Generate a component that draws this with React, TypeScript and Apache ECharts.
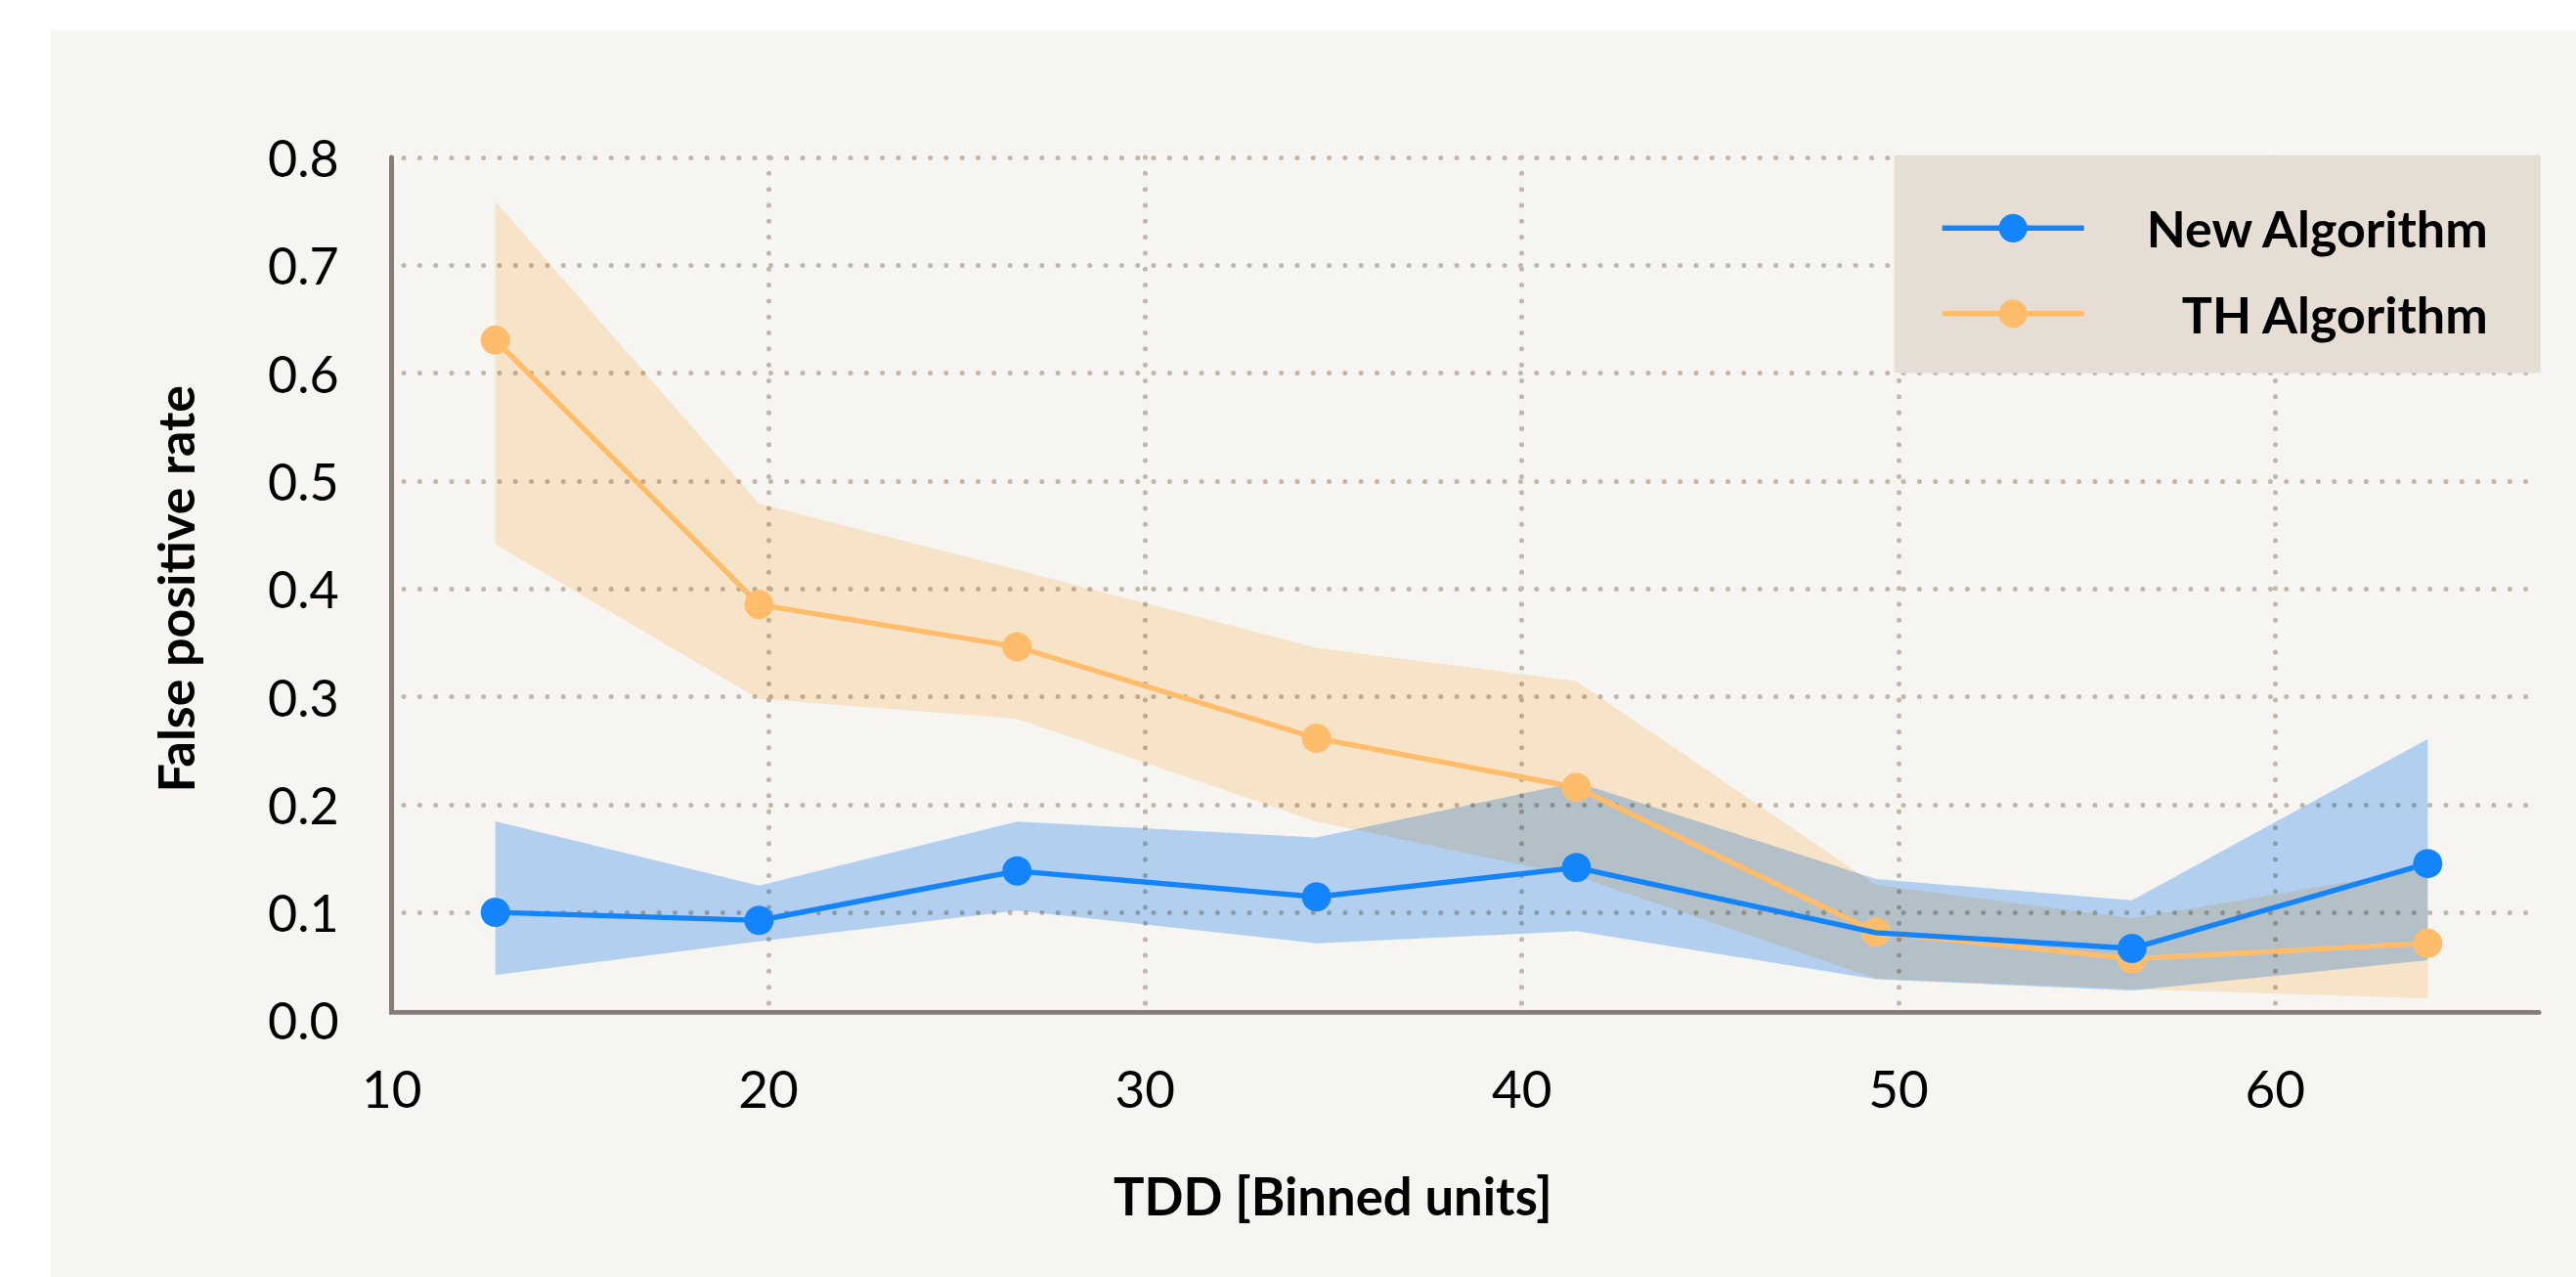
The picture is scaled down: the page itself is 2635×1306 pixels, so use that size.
import React, { useEffect, useRef } from "react";
import * as echarts from "echarts";

// TDD bin centres (x) and false positive rates (y)
const tdd = [12.75, 19.75, 26.6, 34.55, 41.45, 49.4, 56.2, 64.05];

const newAlgo = [0.1, 0.0926, 0.1383, 0.1144, 0.1415, 0.0812, 0.0666, 0.1453];
const newUpper = [0.1845, 0.1248, 0.1841, 0.1695, 0.2207, 0.1309, 0.1113, 0.2607];
const newLower = [0.042, 0.0732, 0.1016, 0.0714, 0.0826, 0.038, 0.0275, 0.0557];

const thAlgo = [0.6307, 0.3854, 0.3462, 0.2615, 0.2159, 0.0817, 0.0569, 0.0714];
const thUpper = [0.7592, 0.479, 0.4176, 0.3454, 0.3143, 0.1255, 0.0944, 0.1408];
const thLower = [0.4413, 0.298, 0.2796, 0.1841, 0.1336, 0.0386, 0.029, 0.0203];

// New Algorithm has no marker drawn at this bin in the reference
const newNoMarkerIndex = [5];

const seriesNames = ["New Algorithm", "TH Algorithm"];

const BLUE = "#1484fa";
const ORANGE = "#ffbd6b";
const BLUE_BAND = "#bad8fe";
const ORANGE_BAND = "#ffedd4";
const PANEL = "#f6f5f1";
const AXIS = "#877d76";
const GRID = "#c1b6a9";
const FONT = "Lato";
const LINE_W = 5.4;

export default function App() {
  const ref = useRef<HTMLDivElement>(null);

  useEffect(() => {
    document.body.style.margin = "0";
    const chart = echarts.init(ref.current!, null, {
      renderer: "svg",
      width: 2635,
      height: 1306,
    });

    const band = (id: string, lower: number[], upper: number[], color: string) => ({
      type: "custom",
      name: id,
      data: tdd.map((x, i) => [x, lower[i], upper[i]]),
      encode: { x: 0, y: [1, 2] },
      silent: true,
      z: 1,
      renderItem: (params: any, api: any) => {
        if (params.dataIndex !== 0) return null;
        const pts: number[][] = [];
        for (let i = 0; i < tdd.length; i++) pts.push(api.coord([tdd[i], upper[i]]));
        for (let i = tdd.length - 1; i >= 0; i--) pts.push(api.coord([tdd[i], lower[i]]));
        return {
          type: "polygon",
          shape: { points: pts },
          style: { fill: color },
          silent: true,
        };
      },
    });

    const dotted = {
      color: GRID,
      width: 5,
      type: [0.01, 16.31],
      cap: "round",
    };

    chart.setOption({
      animation: false,
      backgroundColor: "#ffffff",
      grid: { left: 400.7, right: 38, top: 161, bottom: 262.6, containLabel: false },
      graphic: [
        {
          type: "rect",
          z: -10,
          silent: true,
          shape: { x: 52, y: 31, width: 2583, height: 1275 },
          style: { fill: PANEL },
        },
        {
          type: "rect",
          z: 0.5,
          silent: true,
          shape: { x: 380, y: 1037.8, width: 2240, height: 9 },
          style: { fill: PANEL },
        },
      ],
      legend: {
        data: seriesNames,
        orient: "vertical",
        left: 1937.6,
        top: 158.7,
        padding: [48.6, 54, 34.8, 46.4],
        itemGap: 35.5,
        itemWidth: 145,
        itemHeight: 36.5,
        backgroundColor: "#e6ded5",
        selectedMode: false,
        lineStyle: { width: LINE_W },
        formatter: (name: string) => "{r|" + name + "}",
        textStyle: {
          rich: {
            r: {
              width: 408,
              align: "right",
              fontSize: 52,
              fontWeight: "bold",
              fontFamily: FONT,
              color: "#000000",
            },
          },
        },
      },
      xAxis: {
        type: "value",
        min: 10,
        max: 67,
        interval: 10,
        offset: -8.4,
        axisLine: { show: true, lineStyle: { color: AXIS, width: 5 } },
        axisTick: { show: false },
        axisLabel: {
          fontSize: 53,
          fontFamily: FONT,
          color: "#000000",
          margin: 50.5,
          showMaxLabel: false,
        },
        splitLine: {
          show: true,
          showMinLine: false,
          showMaxLine: false,
          lineStyle: { ...dotted },
        },
        name: "TDD [Binned units]",
        nameLocation: "middle",
        nameGap: 161,
        nameTextStyle: {
          fontSize: 52.6,
          fontWeight: "bold",
          fontFamily: FONT,
          color: "#000000",
          padding: [0, 271, 0, 0],
        },
      },
      yAxis: {
        type: "value",
        min: 0,
        max: 0.8,
        interval: 0.1,
        axisLine: { show: true, lineStyle: { color: AXIS, width: 5 } },
        axisTick: { show: false },
        axisLabel: {
          fontSize: 52,
          fontFamily: FONT,
          color: "#000000",
          margin: 54,
          formatter: (v: number) => v.toFixed(1),
        },
        splitLine: {
          show: true,
          showMinLine: false,
          lineStyle: { ...dotted, dashOffset: 4.3 },
        },
        name: "False positive rate",
        nameLocation: "middle",
        nameGap: 196,
        nameTextStyle: {
          fontSize: 52,
          fontWeight: "bold",
          fontFamily: FONT,
          color: "#000000",
        },
      },
      series: [
        band("th-band", thLower, thUpper, ORANGE_BAND),
        band("new-band", newLower, newUpper, BLUE_BAND),
        {
          type: "line",
          name: "TH Algorithm",
          data: tdd.map((x, i) => [x, thAlgo[i]]),
          symbol: "circle",
          symbolSize: 30,
          itemStyle: { color: ORANGE },
          lineStyle: { color: ORANGE, width: LINE_W },
          z: 2,
        },
        {
          type: "line",
          name: "New Algorithm",
          data: tdd.map((x, i) =>
            newNoMarkerIndex.includes(i)
              ? { value: [x, newAlgo[i]], symbol: "none" }
              : [x, newAlgo[i]]
          ),
          symbol: "circle",
          symbolSize: 30,
          itemStyle: { color: BLUE },
          lineStyle: { color: BLUE, width: LINE_W },
          z: 3,
        },
      ],
    });

    return () => chart.dispose();
  }, []);

  return (
    <>
      <style>{`.fpr-chart path[fill="${BLUE_BAND}" i], .fpr-chart path[fill="${ORANGE_BAND}" i] { mix-blend-mode: multiply; }`}</style>
      <div ref={ref} className="fpr-chart" style={{ width: 2635, height: 1306 }} />
    </>
  );
}
